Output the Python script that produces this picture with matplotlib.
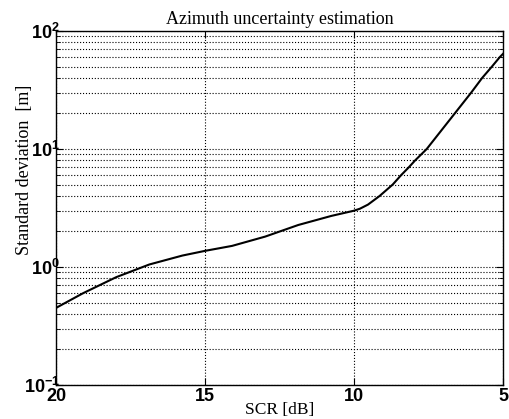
import numpy as np
import matplotlib.pyplot as plt
from matplotlib.ticker import FixedLocator, LogLocator, NullFormatter

plt.rc('mathtext', fontset='custom', rm='Liberation Sans', bf='Liberation Sans:bold')

# values (grid crossings of the curve)
scr_db = [20, 19.09, 17.98, 16.87, 15.76, 15.0, 14.09, 12.98, 11.87, 10.76,
          10.0, 9.8, 9.53, 9.14, 8.7, 8.42, 8.16, 7.95, 7.56, 6.62, 6.07,
          5.7, 5.37, 5.11, 5.0]
std_m = [0.45, 0.60, 0.82, 1.05, 1.25, 1.37, 1.51, 1.81, 2.27, 2.71,
         3.0, 3.12, 3.38, 4.0, 5.0, 6.0, 7.0, 8.0, 10.0, 20.0, 30.0,
         40.0, 50.0, 60.0, 64.0]
xticks = [20, 15, 10, 5]
yticks = [0.1, 1, 10, 100]
ylabels = [r'$\mathbf{10^{-1}}$', r'$\mathbf{10^{0}}$', r'$\mathbf{10^{1}}$', r'$\mathbf{10^{2}}$']

fig, ax = plt.subplots(figsize=(5.09, 4.19), dpi=100)
fig.subplots_adjust(left=56/509, right=503/509, top=1-31/419, bottom=1-385/419)

ax.plot(scr_db, std_m, color='black', lw=1.5)
ax.set_yscale('log')
ax.set_xlim(20, 5)
ax.set_ylim(0.1, 100)

ax.xaxis.set_major_locator(FixedLocator(xticks))
ax.set_xticklabels([str(v) for v in xticks], fontfamily='Liberation Sans',
                   fontweight='bold', fontsize=13)
ax.yaxis.set_major_locator(FixedLocator(yticks))
ax.yaxis.set_minor_locator(LogLocator(base=10, subs=np.arange(2, 10)))
ax.yaxis.set_minor_formatter(NullFormatter())
ax.set_yticklabels(ylabels, fontsize=13)

ax.tick_params(which='both', direction='in', top=True, right=True)
ax.tick_params(which='major', length=5)
ax.tick_params(axis='x', which='major', pad=2)
ax.tick_params(axis='y', which='major', pad=-3)
ax.tick_params(which='minor', length=3)
ax.grid(True, which='major', axis='x', color='black', ls=':', lw=0.8)
ax.grid(True, which='both', axis='y', color='black', ls=':', lw=0.8)
for s in ax.spines.values():
    s.set_linewidth(1.0)

ax.set_title('Azimuth uncertainty estimation', fontfamily='Liberation Serif',
             fontsize=13, pad=5)
ax.set_xlabel('SCR [dB]', fontfamily='Liberation Serif', fontsize=12.5, labelpad=-2)
ax.set_ylabel('Standard deviation  [m]', fontfamily='Liberation Serif',
              fontsize=13)
ax.yaxis.set_label_coords(-0.051, 0.607)

fig.savefig('out.png', dpi=100)
